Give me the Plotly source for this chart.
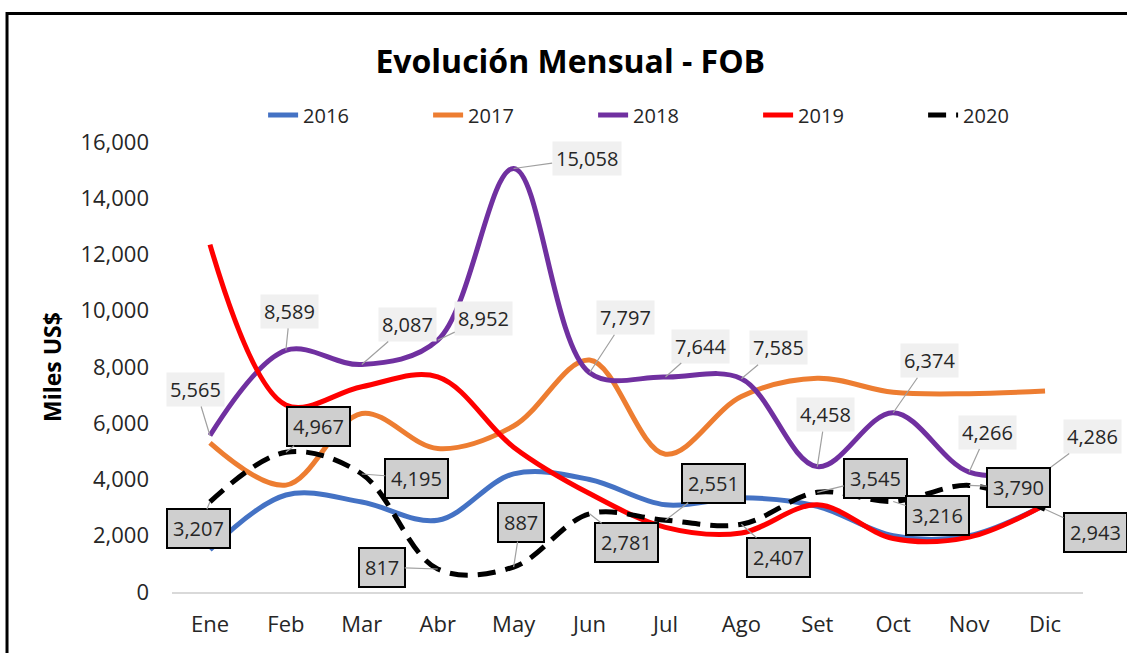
import plotly.graph_objects as go

months = ["Ene", "Feb", "Mar", "Abr", "May", "Jun", "Jul", "Ago", "Set", "Oct", "Nov", "Dic"]
v2016 = [1500, 3450, 3200, 2550, 4200, 4000, 3100, 3350, 3050, 2000, 2000, 3100]
v2017 = [5300, 3800, 6350, 5100, 5900, 8250, 4900, 6950, 7600, 7100, 7050, 7150]
v2018 = [5565, 8589, 8087, 8952, 15058, 7797, 7644, 7585, 4458, 6374, 4266, 4286]
v2019 = [12350, 6650, 7300, 7650, 5150, 3500, 2300, 2100, 3100, 1900, 1950, 3100]
v2020 = [3207, 4967, 4195, 817, 887, 2781, 2551, 2407, 3545, 3216, 3790, 2943]

# label offsets (pixels) for data labels
off2018 = [(-14, -46), (4, -39), (46, -40), (46, -22), (73, -10), (36, -55),
           (35, -31), (37, -31), (8, -52), (36, -52), (18, -40), (47, -35)]
off2020 = [(-11, 27), (33, -26), (55, 4), (-56, -2), (7, -45), (37, 29),
           (48, -37), (37, 33), (58, -14), (44, 14), (49, 2), (50, 23)]

FONT = "Open Sans, Noto Sans, sans-serif"

fig = go.Figure()
series = [
    ("2016", v2016, "#4472C4", "solid"),
    ("2017", v2017, "#ED7D31", "solid"),
    ("2018", v2018, "#7030A0", "solid"),
    ("2019", v2019, "#FF0000", "solid"),
    ("2020", v2020, "#000000", "18px,10px"),
]
for name, vals, color, dash in series:
    fig.add_trace(go.Scatter(
        x=months, y=vals, name=name, mode="lines",
        line=dict(color=color, width=5, shape="spline", smoothing=1.0, dash=dash),
        hoverinfo="x+y+name",
    ))

annotations = []
for m, v, (dx, dy) in zip(months, v2018, off2018):
    annotations.append(dict(
        x=m, y=v, xref="x", yref="y", text=f"{v:,}", showarrow=True,
        ax=dx, ay=dy, arrowhead=0, arrowwidth=1.2, arrowcolor="#a0a0a0",
        bgcolor="#f0f0f0", borderpad=3,
        font=dict(family=FONT, size=20, color="#262626"),
    ))
for m, v, (dx, dy) in zip(months, v2020, off2020):
    annotations.append(dict(
        x=m, y=v, xref="x", yref="y", text=f"{v:,}", showarrow=True,
        ax=dx, ay=dy, arrowhead=0, arrowwidth=1.2, arrowcolor="#a0a0a0",
        bgcolor="#cfcfcf", bordercolor="#000000", borderwidth=2, borderpad=5,
        font=dict(family=FONT, size=20, color="#262626"),
    ))

fig.update_layout(
    width=1127, height=653,
    margin=dict(l=172, r=44, t=142, b=61),
    paper_bgcolor="white", plot_bgcolor="white",
    font=dict(family=FONT, size=20, color="#262626"),
    title=dict(text="<b>Evolución Mensual - FOB</b>", x=0.506, xref="container",
               y=0.905, yref="container", xanchor="center", yanchor="middle",
               font=dict(family=FONT, size=32, color="#000000")),
    legend=dict(orientation="h", x=0.1, xanchor="left", y=1.06, yanchor="middle",
                font=dict(family=FONT, size=20, color="#262626"),
                entrywidth=120, entrywidthmode="pixels", bgcolor="rgba(0,0,0,0)"),
    xaxis=dict(type="category", range=[-0.5, 11.5], showgrid=False, zeroline=False,
               showline=True, linecolor="#d9d9d9", linewidth=2, ticks="",
               ticklabelstandoff=12, tickfont=dict(family=FONT, size=22, color="#262626"),
               fixedrange=True),
    yaxis=dict(range=[0, 16000], tickvals=list(range(0, 16001, 2000)), tickformat=",",
               showgrid=False, zeroline=False, showline=False, ticks="",
               ticklabelstandoff=22, tickfont=dict(family=FONT, size=22, color="#262626"),
               title=dict(text="<b>Miles US$</b>", standoff=12,
                          font=dict(family=FONT, size=23, color="#000000")),
               fixedrange=True),
    annotations=annotations,
    shapes=[dict(type="rect", xref="paper", yref="paper",
                 x0=-0.1811, x1=1.10, y0=-0.2, y1=1.2856,
                 line=dict(color="black", width=3), fillcolor="rgba(0,0,0,0)", layer="above")],
    showlegend=True,
)

fig.write_html("out.html", config={"displayModeBar": False},
               post_script="document.body.style.margin='0';document.body.style.overflow='hidden';")
